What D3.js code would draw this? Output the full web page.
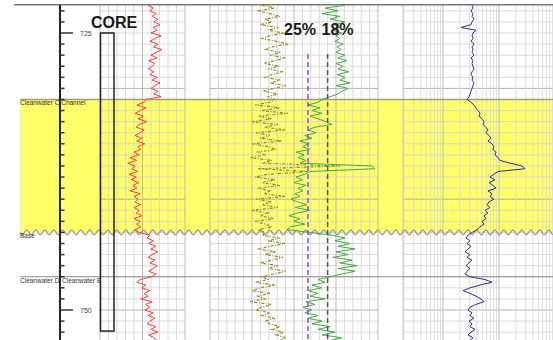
<!DOCTYPE html>
<html>
<head>
<meta charset="utf-8">
<script src="https://cdn.jsdelivr.net/npm/d3@7"></script>
<style>
  body { margin: 0; background: #fff; }
  svg { display: block; }
  text { font-family: "Liberation Sans", Arial, sans-serif; }
</style>
</head>
<body>
<svg id="log" width="553" height="340"></svg>
<script>
// Log curves sampled every 0.25 depth units starting at 722.5
const depthStart = 722.5;
const depthStep = 0.25;

// Track 1: gamma ray (API)
const gammaRay = [
  85,94,88,99,92,102,95,106,94,101,90,108,97,88,102,94,109,99,90,101,86,97,92,85,95,88,101,92,106,97,90,102,95,108,81,
  78,65,81,71,62,76,67,83,69,64,78,71,62,74,65,79,67,72,
  60,69,53,65,49,62,56,67,51,64,55,69,58,65,53,71,60,67,
  62,72,60,69,64,74,60,71,65,72,62,69,
  88,83,94,86,99,90,102,92,85,97,88,101,94,86,99,92,
  71,65,81,74,88,78,85,72,92,81,88,79,94,85,97,88,83,99,90,102,86,95,101
];

// Track 2: porosity curves (%)
const porosityA = [
  11.8,18.9,14.3,20,13.6,17.1,11.8,15.4,13.6,16.1,12.9,15,13.6,15.4,12.5,14.6,13.2,15,11.8,14.3,11.1,15,12.5,14.3,10.4,14.6,11.8,13.6,10,15,10.7,12.9,14.3,17.1,20,
  21.4,25,20.7,23.6,20,24.3,21.4,18.6,16.4,22.5,25,22.1,26.1,23.6,27.9,25,26.8,24.3,29.3,26.4,
  28.6,25.7,27.9,2.1,1.1,24.3,26.1,29.3,27.1,30,25.7,28.6,26.8,29.6,27.9,31.1,28.6,25.4,29.6,24.3,
  28.9,31.8,27.9,30,26.1,31.4,32.5,24.3,
  16.4,11.8,15.4,10,14.3,8.2,15,10.7,16.1,9.3,13.6,7.5,14.3,8.2,12.9,17.1,
  21.4,18.9,23.6,20,25,21.4,24.3,18.9,25.7,22.5,26.8,23.6,26.1,21.4,25,20,23.6,17.1,21.4,15.4,20,12.9,17.1
];
const porosityB = [
  41.4,36.8,42.9,38.6,35,40.4,37.9,42.1,35.7,39.3,33.6,38.6,41.4,36.4,32.1,37.9,40,34.6,38.6,33.2,36.8,40.7,35.4,39.3,33.9,37.9,40.4,35,38.6,32.9,37.1,41.1,35.7,39.3,36.8,
  38.6,43.9,35,41.4,32.1,42.9,37.9,45,35.7,40.4,33.2,43.6,38.6,42.1,34.3,45,39.3,36.4,42.9,40.4,
  45.7,37.9,41.4,13.6,42.9,25,39.3,43.9,36.8,41.4,35,42.9,38.6,40.7,33.2,43.6,37.9,41.4,35.7,45,
  39.3,42.1,37.1,43.9,40,37.9,42.9,40.4,
  41.4,35,39.3,33.2,38.6,42.9,36.4,40.4,33.9,37.9,42.1,35.7,39.3,32.9,37.1,41.4,
  39.3,43.9,36.8,42.1,45,38.6,42.9,40.4,45.7,37.9,41.4,43.6,38.6,41.4,36.8,40.4,38.6,35,37.9,33.6,36.4,32.9,35
];

// Track 3: resistivity (ohm.m, logarithmic)
const resistivity = [
  33,34.3,31.6,34.3,33,35.8,33,31.6,20.9,38.8,34.3,33,34.3,31.6,35.8,33,34.3,33,35.8,31.6,34.3,33,34.3,35.8,33,31.6,34.3,33,35.8,34.3,33,31.6,30.3,29.1,26.8,
  31.6,35.8,38.8,42.2,45.8,43.9,49.7,54,51.8,58.6,63.6,58.6,66.3,71.9,63.6,75,81.4,78,88.3,84.8,
  96,104,157,257,290,96,81.4,69,84.8,66.3,78,88.3,63.6,75,69,81.4,66.3,61,69,56.2,
  63.6,54,58.6,49.7,54,45.8,40.5,33,
  27.9,25.8,30.3,26.8,31.6,27.9,24.7,30.3,26.8,33,29.1,25.8,30.3,26.8,24.7,30.3,
  56.2,75,45.8,30.3,22.8,30.3,38.8,47.7,54,38.8,30.3,27.9,33,30.3,35.8,29.1,33,30.3,37.3,31.6,27.9,34.3,30.3
];

// Depth axis labels
const depthLabels = [725, 750];

// Formation tops
const zoneDepths = [731, 743, 747];
const zoneNames = ["Cleanwater C Channel", "Base", "Cleanwater D"];
const zoneExtraName = "Cleanwater B";

// Cored interval
const coreTop = 725, coreBase = 751.9;

// Porosity cutoffs
const cutoffValues = [25, 18];
const cutoffLabels = ["25%", "18%"];
const cutoffColors = ["#a040f0", "#555555"];
const cutoffStart = 726.9;

// ---------------- drawing ----------------
const svg = d3.select("#log");
const W = 553, H = 340;

const y = d3.scaleLinear().domain([725, 750]).range([33, 310]);
const topDepth = y.invert(4.7), botDepth = y.invert(H);

const gr = d3.scaleLinear().domain([0, 150]).range([100, 185]);
const phi = d3.scaleLinear().domain([60, 0]).range([210, 378]);
const res = d3.scaleLog().domain([10, 100]).range([443, 499]);
const resX0 = 403, resX1 = 553;

const depthOf = i => depthStart + i * depthStep;

// Yellow channel zone with wavy (erosional) base
const chTop = y(zoneDepths[0]), chBase = y(zoneDepths[1]);
const wave = d3.range(20, W + 0.5, 0.5).map(x => [x, chBase + 2.2 * Math.sin((x - 20) / 9 * 2 * Math.PI)]);
const zonePoly = [[20, chTop], [W, chTop], ...wave.slice().reverse()];
svg.append("path")
  .attr("d", d3.line()(zonePoly) + "Z")
  .attr("fill", "#ffff6a");

// Horizontal grid lines per track
const gridDepths = d3.range(Math.ceil(topDepth), Math.floor(botDepth) + 1);
const trackSpans = [[gr.range()[0], gr.range()[1]], [phi.range()[0], phi.range()[1]], [resX0, resX1]];
const g = svg.append("g");
trackSpans.forEach(([x0, x1]) => {
  g.selectAll(null).data(gridDepths).join("line")
    .attr("x1", x0).attr("x2", x1)
    .attr("y1", d => y(d)).attr("y2", d => y(d))
    .attr("stroke", d => d % 10 === 0 ? "#a0a0a0" : "#d0d0d0")
    .attr("stroke-opacity", 0.8)
    .attr("stroke-width", 1);
});

// Vertical grid: track 1
const grTicks = d3.range(0, 151, 15);
g.selectAll(null).data(grTicks).join("line")
  .attr("x1", d => gr(d)).attr("x2", d => gr(d))
  .attr("y1", 4.7).attr("y2", H)
  .attr("stroke", d => d % 75 === 0 ? "#b0b0b0" : "#d4d4d4")
  .attr("stroke-opacity", 0.85);

// Vertical grid: track 2
const phiTicks = d3.range(0, 61, 3);
g.selectAll(null).data(phiTicks).join("line")
  .attr("x1", d => phi(d)).attr("x2", d => phi(d))
  .attr("y1", 4.7).attr("y2", H)
  .attr("stroke", d => d % 15 === 0 ? "#b0b0b0" : "#d4d4d4")
  .attr("stroke-opacity", 0.85);

// Vertical grid: track 3 (log cycles)
const resTicks = [];
[1, 10, 100, 1000].forEach(dec => d3.range(1, 10).forEach(m => {
  const v = m * dec, x = res(v);
  if (x >= resX0 - 0.5 && x <= resX1 + 0.5) resTicks.push(v);
}));
g.selectAll(null).data(resTicks).join("line")
  .attr("x1", d => res(d)).attr("x2", d => res(d))
  .attr("y1", 4.7).attr("y2", H)
  .attr("stroke", d => [10, 100, 1000].includes(d) ? "#b4b4b4" : "#d8d8d8")
  .attr("stroke-opacity", 0.85);
svg.append("line").attr("x1", resX0).attr("x2", resX0).attr("y1", 4.7).attr("y2", H)
  .attr("stroke", "#c4c4c4");

// Top border
svg.append("line").attr("x1", 14).attr("x2", W).attr("y1", 4.7).attr("y2", 4.7)
  .attr("stroke", "#777").attr("stroke-width", 1.5);

// Formation top lines
svg.append("line").attr("x1", 20).attr("x2", W).attr("y1", chTop).attr("y2", chTop)
  .attr("stroke", "#a0a070").attr("stroke-width", 1.6);
svg.append("path").attr("d", d3.line()(wave))
  .attr("fill", "none").attr("stroke", "#9a9a9a").attr("stroke-width", 1.3);
svg.append("line").attr("x1", 20).attr("x2", W).attr("y1", y(zoneDepths[2])).attr("y2", y(zoneDepths[2]))
  .attr("stroke", "#8a8a8a").attr("stroke-width", 1.2);

// Zone labels
const zl = svg.append("g").attr("font-size", 6.5).attr("fill", "#333");
zoneNames.forEach((n, i) => {
  zl.append("text").attr("x", 20).attr("y", y(zoneDepths[i]) + 6).text(n);
});
zl.append("text").attr("x", 62).attr("y", y(zoneDepths[2]) + 6).text(zoneExtraName);

// Depth track
svg.append("line").attr("x1", 60).attr("x2", 60).attr("y1", 4.7).attr("y2", H)
  .attr("stroke", "#222").attr("stroke-width", 2);
const minorTicks = d3.range(Math.ceil(topDepth), Math.floor(botDepth) + 1);
svg.append("g").selectAll("line").data(minorTicks).join("line")
  .attr("x1", 60).attr("x2", d => depthLabels.includes(d) ? 73 : 64.5)
  .attr("y1", d => y(d)).attr("y2", d => y(d))
  .attr("stroke", "#333").attr("stroke-width", 1.5);
svg.append("g").selectAll("text").data(depthLabels).join("text")
  .attr("x", 80).attr("y", d => y(d) + 2.5)
  .attr("font-size", 7).attr("fill", "#444").text(d => d);

// Core interval box
svg.append("rect")
  .attr("x", 100.5).attr("width", 13.5)
  .attr("y", y(coreTop)).attr("height", y(coreBase) - y(coreTop))
  .attr("fill", "none").attr("stroke", "#222").attr("stroke-width", 1.5);
svg.append("text").attr("x", 114).attr("y", 27.5).attr("text-anchor", "middle")
  .attr("font-size", 16).attr("font-weight", "bold").attr("fill", "#1a1a1a").text("CORE");

// Curves
svg.append("path").datum(gammaRay)
  .attr("d", d3.line().x(v => gr(v)).y((v, i) => y(depthOf(i))))
  .attr("fill", "none").attr("stroke", "#ff3a3a").attr("stroke-width", 1);

svg.append("path").datum(porosityB)
  .attr("d", d3.line().x(v => phi(v)).y((v, i) => y(depthOf(i))))
  .attr("fill", "none").attr("stroke", "#8e8e26").attr("stroke-width", 1.2)
  .attr("stroke-dasharray", "3,1.5,1,1.5");

svg.append("path").datum(porosityA)
  .attr("d", d3.line().x(v => phi(v)).y((v, i) => y(depthOf(i))))
  .attr("fill", "none").attr("stroke", "#44aa44").attr("stroke-width", 1);

svg.append("path").datum(resistivity)
  .attr("d", d3.line().x(v => res(v)).y((v, i) => y(depthOf(i))))
  .attr("fill", "none").attr("stroke", "#2c2c9c").attr("stroke-width", 1);

// Porosity cutoffs
cutoffValues.forEach((c, i) => {
  svg.append("line")
    .attr("x1", phi(c)).attr("x2", phi(c))
    .attr("y1", y(cutoffStart)).attr("y2", H)
    .attr("stroke", cutoffColors[i]).attr("stroke-width", 1.5)
    .attr("stroke-dasharray", "5,3");
});
svg.append("text").attr("x", 300).attr("y", 35).attr("text-anchor", "middle")
  .attr("font-size", 16).attr("font-weight", "bold").attr("fill", "#1a1a1a").text(cutoffLabels[0]);
svg.append("text").attr("x", 337.5).attr("y", 35).attr("text-anchor", "middle")
  .attr("font-size", 16).attr("font-weight", "bold").attr("fill", "#1a1a1a").text(cutoffLabels[1]);
</script>
</body>
</html>
